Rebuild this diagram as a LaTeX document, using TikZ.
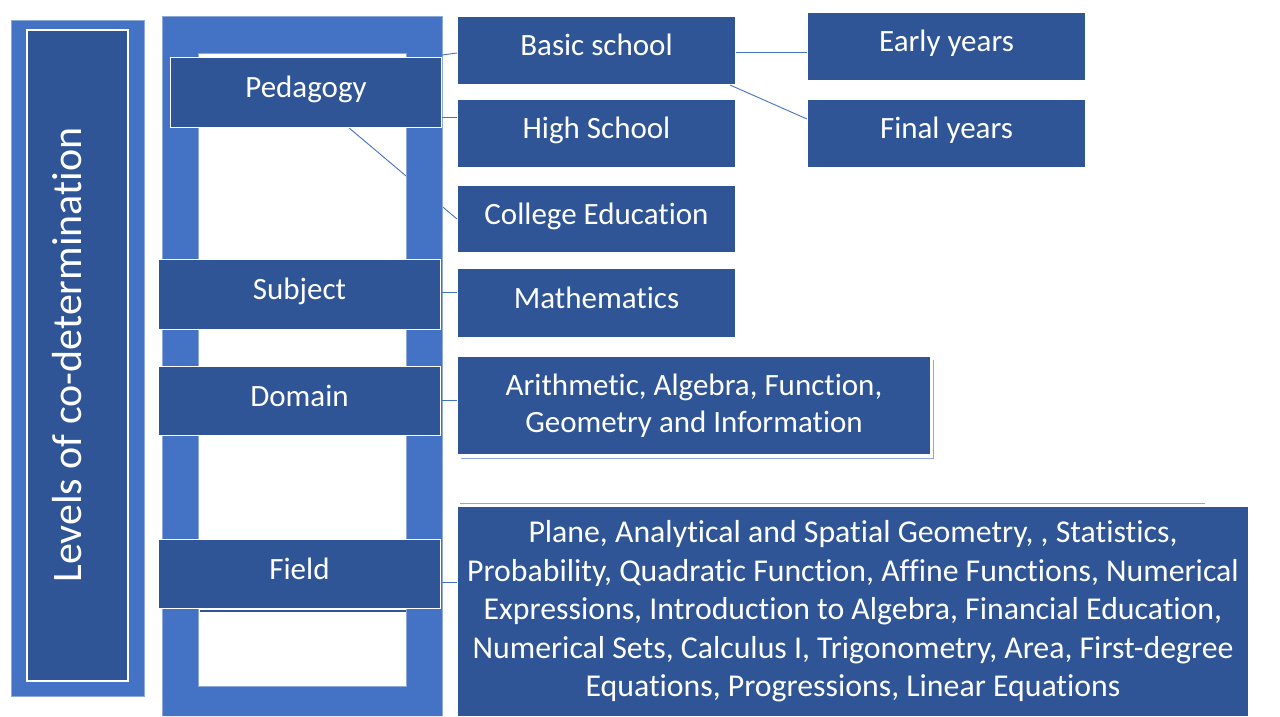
\documentclass[tikz,border=0pt]{standalone}
\usepackage{fontspec}
\setmainfont{Carlito}[Ligatures=CommonOff]
\definecolor{dblue}{HTML}{2F5597}
\definecolor{lblue}{HTML}{4472C4}
\definecolor{edge}{HTML}{8FA9D6}
\begin{document}
\begin{tikzpicture}[x=1pt,y=-1pt,
  box/.style={draw=white, line width=1pt, fill=dblue, text=white, anchor=north west,
    inner sep=0pt, align=center, font=\fontsize{31}{37}\selectfont,
    text height=22pt, text depth=12pt},
  conn/.style={draw=lblue, line width=0.9pt}]
\useasboundingbox (0,0) rectangle (1280,716);
\fill[white] (0,0) rectangle (1280,716);
% left title panel
\fill[lblue, draw=edge, line width=0.6pt] (11,20) rectangle (144,696);
\node[box, minimum width=101pt, minimum height=651pt, line width=1.5pt] (title) at (26,29) {};
\node[text=white, inner sep=0pt, rotate=90, font=\fontsize{42}{48}\selectfont] (titletext) at (67,355)
  {Levels of co-determination};
% connector hidden behind frame
\node[coordinate] (pedbot) at (348,127) {};
\node[box, minimum width=278pt, minimum height=67pt] (college) at (457,185) {College Education};
\draw[conn] (pedbot) -- (college.west);
% frame
\fill[lblue, even odd rule] (162,16) rectangle (442,716) (198,53) rectangle (406,686);
\draw[edge, line width=0.6pt] (162,716) -- (162,16) -- (442,16) -- (442,716);
\draw[edge, line width=0.6pt] (198,53) rectangle (406,686);
\draw[dblue, line width=2pt] (200,611) -- (406,611);
% level boxes
\node[box, minimum width=271pt, minimum height=70pt] (ped) at (170,57) {Pedagogy};
\node[box, minimum width=282pt, minimum height=70pt] (subj) at (158,259) {Subject};
\node[box, minimum width=282pt, minimum height=69pt] (dom) at (158,366) {Domain};
\node[box, minimum width=282pt, minimum height=69pt] (field) at (158,539) {Field};
% second column
\node[box, minimum width=278pt, minimum height=68pt] (basic) at (457,16) {Basic school};
\node[box, minimum width=278pt, minimum height=68pt] (high) at (457,99) {High School};
\node[box, minimum width=278pt, minimum height=69pt] (math) at (457,268) {Mathematics};
\draw[edge, line width=1pt] (461,458) -- (933,458) -- (933,360);
\node[box, minimum width=473pt, minimum height=98pt, text height=, text depth=] (domt) at (457,356)
  {Arithmetic, Algebra, Function,\\Geometry and Information};
\draw[edge, line width=1pt] (460,503) -- (1205,503);
\node[box, minimum width=791pt, minimum height=210pt, text height=, text depth=,
  font=\fontsize{31.8}{38.5}\selectfont] (fieldt) at (457,506)
  {Plane, Analytical and Spatial Geometry, , Statistics,\\
   Probability, Quadratic Function, Affine Functions, Numerical\\
   Expressions, Introduction to Algebra, Financial Education,\\
   Numerical Sets, Calculus I, Trigonometry, Area, First-degree\\
   Equations, Progressions, Linear Equations};
% third column
\node[box, minimum width=278pt, minimum height=68pt] (early) at (807,12) {Early years};
\node[box, minimum width=278pt, minimum height=68pt] (final) at (807,99) {Final years};
% connectors
\draw[conn] (ped.east |- 0,55) -- (basic.west |- 0,53);
\draw[conn] (ped.east |- 0,117) -- (high.west |- 0,117);
\draw[conn] (subj.east |- 0,292) -- (math.west |- 0,292);
\draw[conn] (dom.east |- 0,400) -- (domt.west |- 0,400);
\draw[conn] (field.east |- 0,582) -- (fieldt.west |- 0,582);
\draw[conn] (basic.east |- 0,52) -- (early.west |- 0,52);
\draw[conn] ([xshift=-6pt]basic.south east) -- ([yshift=-20pt]final.north west);
\end{tikzpicture}
\end{document}
